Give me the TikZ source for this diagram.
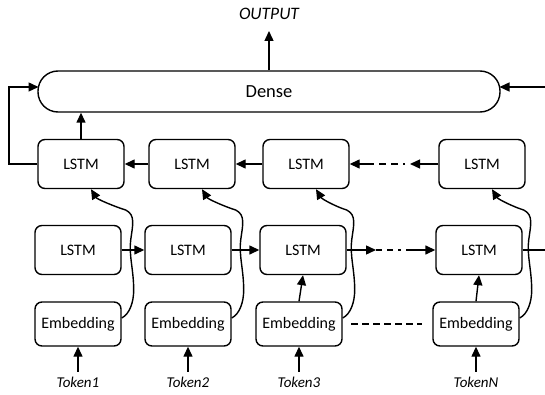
\documentclass[tikz,border=0pt]{standalone}
\usepackage{fontspec}
\setmainfont{Carlito}
\usetikzlibrary{arrows.meta,calc}
\newcommand\embcurve[2]{\draw[arr] ($(#1.east)+(0,-6)$) .. controls +(8,-4) and +(0,12) .. ++(12,-28) .. controls +(0,-20) and +(-2,15) .. ++(-3,-50) .. controls +(2,-15) and +(10,5) .. ++(-5,-30) .. controls +(-10,-3) and +(6,10) .. ($(#2.south)+(10,0)$);}
\begin{document}
\begin{tikzpicture}[x=1pt,y=-1pt,
  box/.style={draw,line width=1.4pt,rounded corners=7pt,minimum width=86pt,minimum height=49pt,inner sep=0pt,font=\fontsize{16}{19}\selectfont},
  emb/.style={box,minimum height=44pt},
  tok/.style={font=\fontsize{15}{18}\selectfont\itshape,inner xsep=1pt,inner ysep=5pt},
  arr/.style={line width=1.4pt,-{Triangle[length=10pt,width=9pt]}},
  ln/.style={line width=1.4pt},
]
\useasboundingbox (0,0) rectangle (545,395);
% Dense
\node[draw,line width=1.4pt,rounded corners=20pt,minimum width=462pt,minimum height=41pt,inner sep=0pt,font=\fontsize{18.5}{21}\selectfont] (D) at (269,91.5) {Dense};
\node[font=\fontsize{17.5}{20}\selectfont\itshape,inner sep=0pt] (OUT) at (269,14) {OUTPUT};
\coordinate (outtip) at (269,31);
\draw[arr] (D.north) -- (outtip);
% decoder LSTMs
\node[box] (L1) at (81,164) {LSTM};
\node[box] (L2) at (192,164) {LSTM};
\node[box] (L3) at (306,164) {LSTM};
\node[box] (L4) at (482,164) {LSTM};
% encoder LSTMs
\node[box] (B1) at (78,250) {LSTM};
\node[box] (B2) at (188,250) {LSTM};
\node[box] (B3) at (303,250) {LSTM};
\node[box] (B4) at (479,250) {LSTM};
% embeddings
\node[emb] (E1) at (78,324) {Embedding};
\node[emb] (E2) at (188,324) {Embedding};
\node[emb] (E3) at (299,324) {Embedding};
\node[emb] (E4) at (476,324) {Embedding};
% tokens
\node[tok] (T1) at (78,382) {Token1};
\node[tok] (T2) at (188,382) {Token2};
\node[tok] (T3) at (299,382) {Token3};
\node[tok] (T4) at (476,382) {TokenN};
\foreach \i in {1,2,3,4}{\draw[arr] (T\i.north) -- (E\i.south);}
\draw[arr] (E3.north) -- (B3.south);
\draw[arr] (E4.north) -- (B4.south);
% decoder chain
\draw[arr] (L2.west) -- (L1.east);
\draw[arr] (L3.west) -- (L2.east);
\coordinate (m1) at (410,164);
\draw[arr] (L4.west) -- (m1);
\draw[arr,dash pattern=on 0pt off 5pt on 2.5pt off 5pt on 7pt off 5pt on 7pt off 5pt on 30pt] (m1) -- (L3.east);
\draw[arr] (L1.north) -- (L1.north |- D.south);
% feedback and right input
\coordinate (fbc) at (9,164);
\coordinate (dl) at (38.5,87);
\coordinate (dr) at (499.5,87);
\coordinate (rin) at (545,87);
\draw[arr] (L1.west) -- (fbc) |- (dl);
\draw[arr] (rin) -- (dr);
% encoder chain
\draw[arr] (B1.east) -- (B2.west);
\draw[arr] (B2.east) -- (B3.west);
\coordinate (c1) at (376,250);
\coordinate (c2) at (408,250);
\coordinate (bout) at (545,250);
\draw[arr] (B3.east) -- (c1);
\draw[ln,dash pattern=on 6pt off 5pt on 6pt off 5pt on 3pt off 5pt] (c1) -- (c2);
\draw[arr] (c2) -- (B4.west);
\draw[ln] (B4.east) -- (bout);
% embedding dashed link
\coordinate (e3r) at (351,324);
\coordinate (e4l) at (422,324);
\draw[ln,dash pattern=on 6.5pt off 4.5pt] (e3r) -- (e4l);
% skip curves
\embcurve{E1}{L1}
\embcurve{E2}{L2}
\embcurve{E3}{L3}
\embcurve{E4}{L4}
\end{tikzpicture}
\end{document}
